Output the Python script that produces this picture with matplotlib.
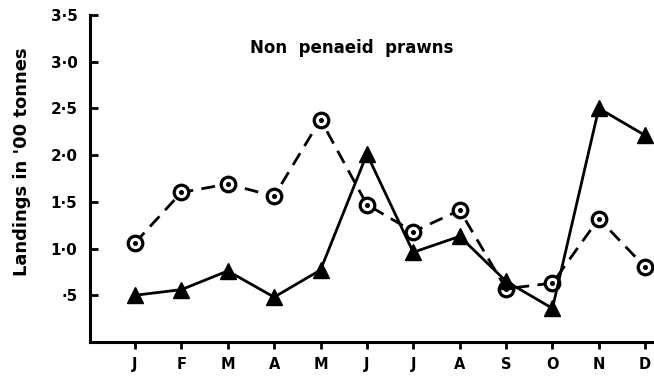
import matplotlib
matplotlib.use("Agg")
import matplotlib.pyplot as plt

months = ["J", "F", "M", "A", "M", "J", "J", "A", "S", "O", "N", "D"]
# landings, hundreds of tonnes
circle_series = [1.06, 1.60, 1.69, 1.56, 2.38, 1.47, 1.18, 1.41, 0.57, 0.63, 1.32, 0.80]
triangle_series = [0.50, 0.56, 0.76, 0.48, 0.77, 2.01, 0.96, 1.13, 0.65, 0.36, 2.50, 2.21]
ytick_vals = [0.5, 1.0, 1.5, 2.0, 2.5, 3.0, 3.5]
ytick_text = ["·5", "1·0", "1·5", "2·0", "2·5", "3·0", "3·5"]

plt.rcParams["font.family"] = "DejaVu Sans"
plt.rcParams["font.weight"] = "bold"

fig = plt.figure(figsize=(6.54, 3.80), dpi=100)
ax = fig.add_axes([0.1376, 0.1, 0.8624, 0.861])

x = list(range(len(months)))

ax.plot(x, circle_series, color="black", lw=2.0, dashes=(5, 3), zorder=2,
        clip_on=False)
ax.plot(x, circle_series, "o", ms=10.5, mfc="white", mec="black", mew=2.3,
        zorder=3, clip_on=False)
ax.plot(x, circle_series, "o", ms=2.6, color="black", zorder=4, clip_on=False)

ax.plot(x, triangle_series, color="black", lw=2.0, zorder=5, clip_on=False)
ax.plot(x, triangle_series, "^", ms=11, color="black", zorder=6, clip_on=False)

ax.set_xlim(-0.97, 11.19)
ax.set_ylim(0, 3.5)

ax.set_xticks(x)
ax.set_xticklabels(months, fontsize=10.5, fontweight="bold")
ax.set_yticks(ytick_vals)
ax.set_yticklabels(ytick_text, fontsize=11, fontweight="bold")

ax.tick_params(axis="x", direction="out", length=5, width=2, pad=6)
ax.tick_params(axis="y", direction="in", length=6, width=2, pad=9)

for side in ["top", "right"]:
    ax.spines[side].set_visible(False)
for side in ["left", "bottom"]:
    ax.spines[side].set_linewidth(2.2)

ax.set_ylabel("Landings in '00 tonnes", fontsize=13, fontweight="bold",
              labelpad=10)
ax.yaxis.set_label_coords(-0.105, 0.55)

fig.text(352 / 654, 1 - 48 / 380, "Non  penaeid  prawns", ha="center",
         va="center", fontsize=12, fontweight="bold")

fig.savefig("out.png", dpi=100)
